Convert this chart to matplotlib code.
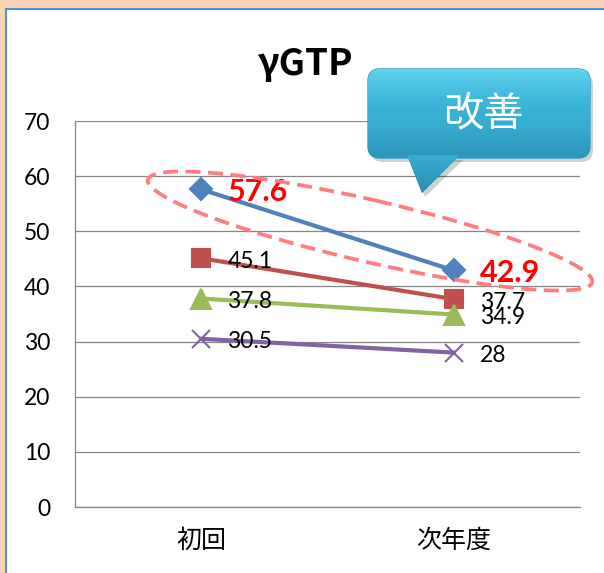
import numpy as np
import matplotlib.pyplot as plt
from matplotlib.patches import Rectangle, Ellipse, FancyBboxPatch, Polygon
from matplotlib.colors import LinearSegmentedColormap

# chart data
categories = ['初回', '次年度']
first_series = [57.6, 42.9]
second_series = [45.1, 37.7]
third_series = [37.8, 34.9]
fourth_series = [30.5, 28]
y_ticks = [0, 10, 20, 30, 40, 50, 60, 70]
chart_title = 'γGTP'
callout_text = '改善'

W, H = 604, 573
CJK = ['Noto Sans CJK JP', 'DejaVu Sans']
plt.rcParams['font.family'] = ['Lato', 'Noto Sans CJK JP', 'DejaVu Sans']

fig = plt.figure(figsize=(W / 100, H / 100), dpi=100, facecolor='#FCD5B4')

# white panel with blue frame
fig.add_artist(Rectangle((6 / W, -0.05), 1.1, 1.05 - 9 / H, transform=fig.transFigure,
                         fc='white', ec='#558ED5', lw=1.5, zorder=-1))

ax = fig.add_axes([75 / W, 66 / H, 505 / W, 386 / H])
x = np.arange(len(categories))

styles = [
    (first_series, '#4F81BD', 'D', 11.5),
    (second_series, '#C0504D', 's', 13),
    (third_series, '#9BBB59', '^', 14),
    (fourth_series, '#8064A2', 'x', 13),
]
for k, (vals, color, marker, ms) in enumerate(styles):
    ax.plot(x, vals, color=color, lw=3, marker=marker, ms=ms, mfc=color, mec=color,
            mew=1.5, zorder=3)
    for i, v in enumerate(vals):
        if k == 0:
            ax.annotate(f'{v:g}', (x[i], v), xytext=(26, -3), textcoords='offset pixels',
                        ha='left', va='center', fontsize=22, fontweight='bold', color='#FF0000',
                        zorder=4)
        else:
            ax.annotate(f'{v:g}', (x[i], v), xytext=(26, -3), textcoords='offset pixels',
                        ha='left', va='center', fontsize=16.5, color='black', zorder=4)

ax.set_xlim(-0.5, 1.5)
ax.set_ylim(0, 70)
ax.set_yticks(y_ticks)
ax.set_xticks(x, categories)
for lab in ax.get_xticklabels():
    lab.set_family(CJK)
ax.grid(axis='y', color='#868686', lw=0.9)
ax.set_axisbelow(True)
for s in ['top', 'right']:
    ax.spines[s].set_visible(False)
for s in ['left', 'bottom']:
    ax.spines[s].set_color('#868686')
    ax.spines[s].set_linewidth(0.9)
ax.tick_params(axis='both', length=0)
ax.tick_params(axis='y', pad=18, labelsize=16.5)
ax.tick_params(axis='x', pad=15, labelsize=18)

fig.text(305 / W, 1 - 64 / H, chart_title, fontsize=26.5, fontweight='bold', family=CJK,
         ha='center', va='center')

# overlay in pixel coordinates for the ellipse and the callout
ov = fig.add_axes([0, 0, 1, 1], zorder=5)
ov.patch.set_alpha(0)
ov.axis('off')

ov.add_patch(Ellipse((370, 231), 456, 62, angle=13, fill=False, ec='#FF7C80', lw=2.7,
                     ls=(0, (4, 2))))

# callout shadow
ov.add_patch(FancyBboxPatch((371, 73), 222, 89, boxstyle='round,pad=0,rounding_size=12',
                            fc='#000000', ec='none', alpha=0.18))
ov.add_patch(Polygon([(410, 160), (463, 160), (425, 197)], fc='#000000', ec='none', alpha=0.18))

box_cmap = LinearSegmentedColormap.from_list('box', ['#5FD3EE', '#3DB7DA', '#35ABCF', '#2C97BA'])
ptr_cmap = LinearSegmentedColormap.from_list('ptr', ['#36AED2', '#2A8FB0'])
grad = np.linspace(0, 1, 100).reshape(-1, 1)

box = FancyBboxPatch((368, 69), 222, 89, boxstyle='round,pad=0,rounding_size=12',
                     fc='#3DB7DA', ec='#2C9CC0', lw=1)
ov.add_patch(box)
img = ov.imshow(grad, cmap=box_cmap, extent=(368, 590, 158, 69), origin='upper',
                aspect='auto', zorder=2)
img.set_clip_path(box)

ptr = Polygon([(407, 155), (460, 155), (422, 193)], fc='#2E9CBB', ec='none')
ov.add_patch(ptr)
img2 = ov.imshow(grad, cmap=ptr_cmap, extent=(405, 462, 193, 155), origin='upper',
                 aspect='auto', zorder=2)
img2.set_clip_path(ptr)

ov.text(483, 114, callout_text, color='white', fontsize=29, family=CJK,
        ha='center', va='center', zorder=3)

ov.set_xlim(0, W)
ov.set_ylim(H, 0)

fig.savefig('out.png', dpi=100, facecolor=fig.get_facecolor())
